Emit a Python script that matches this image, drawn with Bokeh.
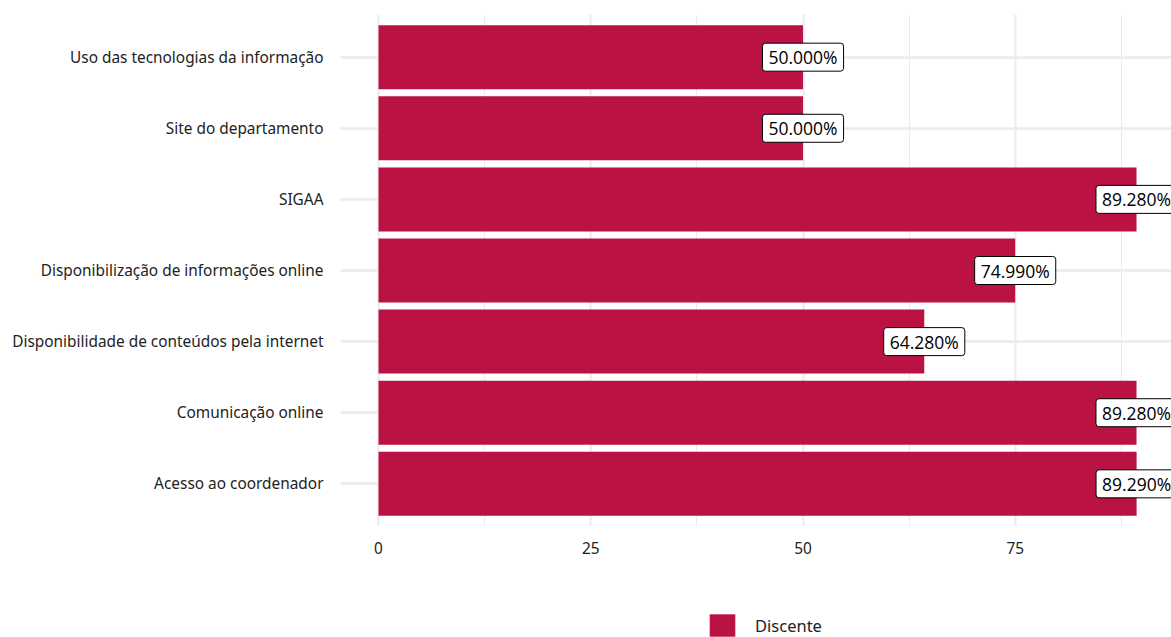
from bokeh.plotting import figure
from bokeh.layouts import column
from bokeh.models import Range1d, FixedTicker, Legend, LegendItem, ColumnDataSource
from bokeh.embed import file_html
from bokeh.resources import INLINE
from bokeh.core.properties import value

categories = [
    "Acesso ao coordenador",
    "Comunicação online",
    "Disponibilidade de conteúdos pela internet",
    "Disponibilização de informações online",
    "SIGAA",
    "Site do departamento",
    "Uso das tecnologias da informação",
]
values = [89.29, 89.28, 64.28, 74.99, 89.28, 50.0, 50.0]
labels = ["89.290%", "89.280%", "64.280%", "74.990%", "89.280%", "50.000%", "50.000%"]
series_name = "Discente"
x_ticks = [0, 25, 50, 75]

positions = list(range(1, len(categories) + 1))
src = ColumnDataSource(dict(y=positions, v=values, lab=labels))

BAR = "#BA1243"
FONT = "Noto Sans"

p = figure(width=1171, height=611, output_backend="svg", toolbar_location=None,
           x_range=Range1d(-4.476, 93.40), y_range=Range1d(0.4, 7.6),
           min_border_left=340, min_border_top=14, min_border_right=0, min_border_bottom=85)
p.outline_line_color = None
p.background_fill_color = "white"

bars = p.hbar(y="y", left=0, right="v", height=0.9, source=src, fill_color=BAR, line_color=None)

p.text(x="v", y="y", text="lab", source=src, text_align="center", text_baseline="middle",
       text_font=value("Open Sans"), text_font_size="17.5px", text_color="black",
       background_fill_color="white", border_line_color="black", border_line_width=1,
       padding=(6, 2), border_radius=3)

# axes
p.xaxis.ticker = FixedTicker(ticks=x_ticks, minor_ticks=[12.5, 37.5, 62.5, 87.5])
p.yaxis.ticker = FixedTicker(ticks=positions, minor_ticks=[])
p.yaxis.major_label_overrides = {pos: c for pos, c in zip(positions, categories)}
for ax in (p.xaxis[0], p.yaxis[0]):
    ax.axis_line_color = None
    ax.major_tick_line_color = None
    ax.minor_tick_line_color = None
    ax.major_label_text_font = FONT
    ax.major_label_text_color = "#222222"
    ax.major_label_text_font_size = "15.4px"
p.xaxis.major_label_standoff = 9
p.yaxis.major_label_standoff = 11

p.xgrid.grid_line_color = "#ebebeb"
p.xgrid.grid_line_width = 2
p.xgrid.minor_grid_line_color = "#ebebeb"
p.xgrid.minor_grid_line_width = 1
p.ygrid.grid_line_color = "#ebebeb"
p.ygrid.grid_line_width = 2.5

# legend strip below the chart (frame aligned with the chart's frame)
lg = figure(width=1171, height=26, output_backend="svg", toolbar_location=None,
            x_axis_type=None, y_axis_type=None, x_range=Range1d(0, 1), y_range=Range1d(0, 1),
            min_border_left=0, min_border_right=0, min_border_top=0, min_border_bottom=0)
lg.outline_line_color = None
lg.grid.visible = False
dummy = lg.hbar(y=[-10], left=[0], right=[1], height=1, fill_color=BAR, line_color=None)
legend = Legend(items=[LegendItem(label=series_name, renderers=[dummy])],
                location=(366, -2), orientation="horizontal",
                label_text_font=FONT, label_text_font_size="16.5px", label_text_color="#222222",
                glyph_width=32, glyph_height=28, label_standoff=17,
                border_line_color=None, background_fill_alpha=0,
                margin=0, padding=0)
lg.add_layout(legend, "center")

open("out.html", "w").write(file_html(column(p, lg, spacing=0), INLINE))
